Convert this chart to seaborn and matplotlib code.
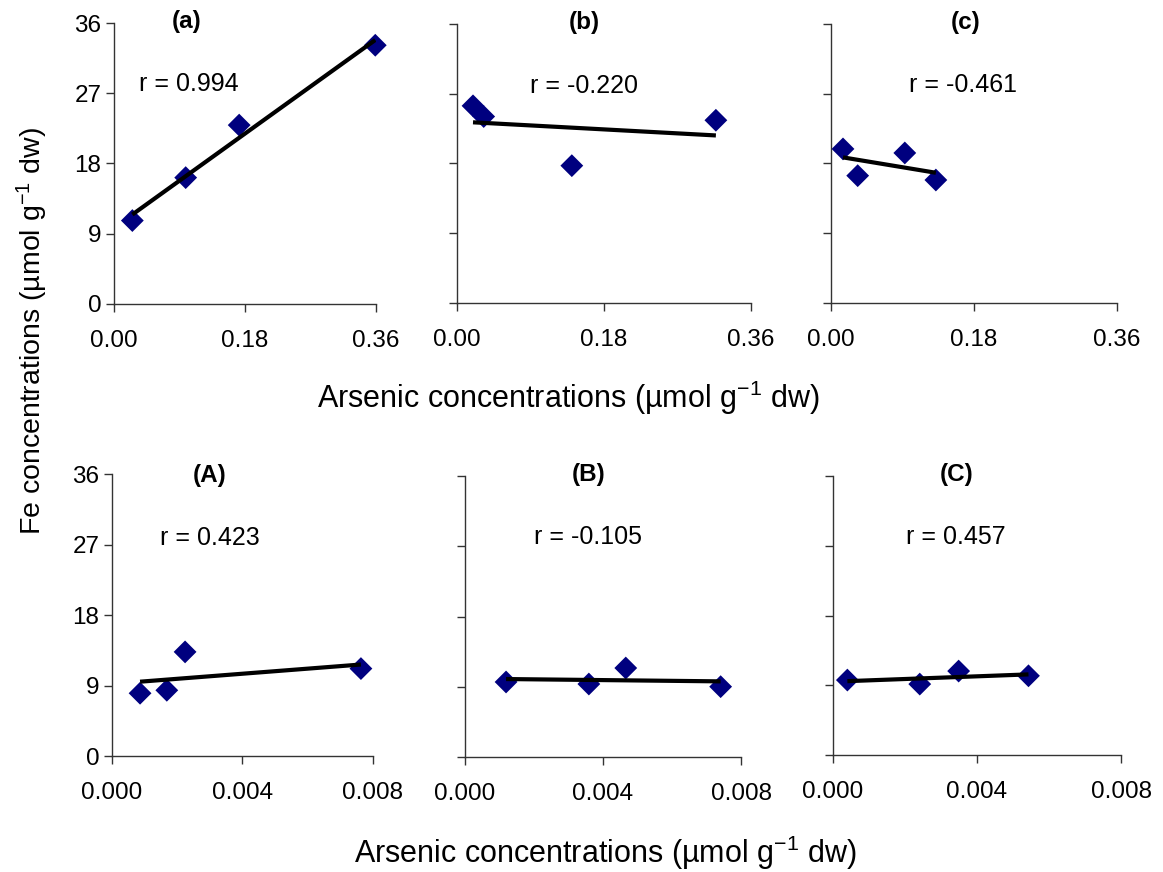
import matplotlib
matplotlib.use("Agg")
import matplotlib.pyplot as plt
import seaborn as sns
import numpy as np

# ---- data ----
x_a = [0.0252, 0.0985, 0.172, 0.359]
y_a = [10.69, 16.19, 22.92, 33.15]
x_b = [0.0196, 0.0327, 0.1406, 0.317]
y_b = [25.44, 24.06, 17.72, 23.58]
x_c = [0.0151, 0.0336, 0.0929, 0.132]
y_c = [19.88, 16.43, 19.36, 15.87]
x_A = [0.00086, 0.00168, 0.00224, 0.00763]
y_A = [8.01, 8.39, 13.29, 11.16]
x_B = [0.00119, 0.00359, 0.00466, 0.00741]
y_B = [9.61, 9.35, 11.40, 9.01]
x_C = [0.000399, 0.00241, 0.00349, 0.00543]
y_C = [9.67, 9.15, 10.83, 10.22]

panel_labels = ["(a)", "(b)", "(c)", "(A)", "(B)", "(C)"]
r_labels = ["r = 0.994", "r = -0.220", "r = -0.461",
            "r = 0.423", "r = -0.105", "r = 0.457"]
yticks = [0, 9, 18, 27, 36]
xticks_top = [0.0, 0.18, 0.36]
xticklabels_top = ["0.00", "0.18", "0.36"]
xticks_bot = [0.0, 0.004, 0.008]
xticklabels_bot = ["0.000", "0.004", "0.008"]
xlabel = "Arsenic concentrations (\u00b5mol g$^{-1}$ dw)"
ylabel = "Fe concentrations (\u00b5mol g$^{-1}$ dw)"

sns.set_style("ticks")
plt.rcParams["font.family"] = ["Liberation Sans", "DejaVu Sans"]
plt.rcParams["mathtext.fontset"] = "custom"
plt.rcParams["mathtext.rm"] = "Liberation Sans"
plt.rcParams["mathtext.it"] = "Liberation Sans:italic"
plt.rcParams["mathtext.bf"] = "Liberation Sans:bold"
plt.rcParams["text.color"] = "black"
plt.rcParams["axes.labelcolor"] = "black"
plt.rcParams["xtick.labelcolor"] = "black"
plt.rcParams["ytick.labelcolor"] = "black"

W, H = 1163, 872
fig = plt.figure(figsize=(W / 100, H / 100), dpi=100)

# axes boxes in pixels: (left, top, right, bottom)
boxes = [
    (114, 23, 376, 304),
    (457, 24, 751, 303),
    (831, 24, 1117, 303),
    (112, 474, 373, 756),
    (465, 476, 741, 757),
    (833, 476, 1121, 755),
]
# text positions in axes fraction: (r_x, r_y, label_x, label_y)
tpos = [
    (0.286, 0.782, 0.279, 1.005),
    (0.431, 0.776, 0.434, 1.005),
    (0.4625, 0.782, 0.471, 1.005),
    (0.375, 0.772, 0.375, 0.996),
    (0.447, 0.783, 0.447, 1.004),
    (0.425, 0.780, 0.429, 1.005),
]
data = [(x_a, y_a), (x_b, y_b), (x_c, y_c), (x_A, y_A), (x_B, y_B), (x_C, y_C)]

for i, ((xs, ys), (l, t, r, b)) in enumerate(zip(data, boxes)):
    ax = fig.add_axes([l / W, 1 - b / H, (r - l) / W, (b - t) / H])
    sns.regplot(x=np.array(xs), y=np.array(ys), ax=ax, ci=None, truncate=True,
                marker="D",
                scatter_kws={"s": 135, "color": "#00007f", "edgecolor": "none",
                             "alpha": 1, "clip_on": False, "zorder": 3},
                line_kws={"color": "black", "lw": 3.0, "zorder": 4,
                          "solid_capstyle": "butt"})
    top = i < 3
    ax.set_xlim(0, 0.36 if top else 0.008)
    ax.set_ylim(0, 36)
    ax.set_xticks(xticks_top if top else xticks_bot)
    ax.set_xticklabels(xticklabels_top if top else xticklabels_bot)
    ax.set_yticks(yticks)
    if i % 3 == 0:
        ax.set_yticklabels([str(v) for v in yticks])
    else:
        ax.set_yticklabels([])
    ax.set_xlabel("")
    ax.set_ylabel("")
    for s in ["top", "right"]:
        ax.spines[s].set_visible(False)
    for s in ["left", "bottom"]:
        ax.spines[s].set_color("#333333")
        ax.spines[s].set_linewidth(1.0)
    ax.tick_params(axis="both", direction="out", length=6, width=1.0,
                   color="#333333", labelsize=17.5, labelcolor="black")
    ax.tick_params(axis="x", pad=13)
    ax.tick_params(axis="y", pad=3)
    ax.set_facecolor("none")
    rx, ry, lx, ly = tpos[i]
    ax.text(rx, ry, r_labels[i], transform=ax.transAxes, ha="center",
            va="center", fontsize=18, color="black")
    ax.text(lx, ly, panel_labels[i], transform=ax.transAxes, ha="center",
            va="center", fontsize=17.5, fontweight="bold", color="black")

fig.text(568 / W, 1 - 398 / H, xlabel, ha="center", va="center", fontsize=22,
         color="black")
fig.text(605 / W, 1 - 853 / H, xlabel, ha="center", va="center", fontsize=22,
         color="black")
fig.text(32 / W, 1 - 331 / H, ylabel, ha="center", va="center", fontsize=20.5,
         rotation=90, color="black")

fig.savefig("out.png", dpi=100, facecolor="white")
